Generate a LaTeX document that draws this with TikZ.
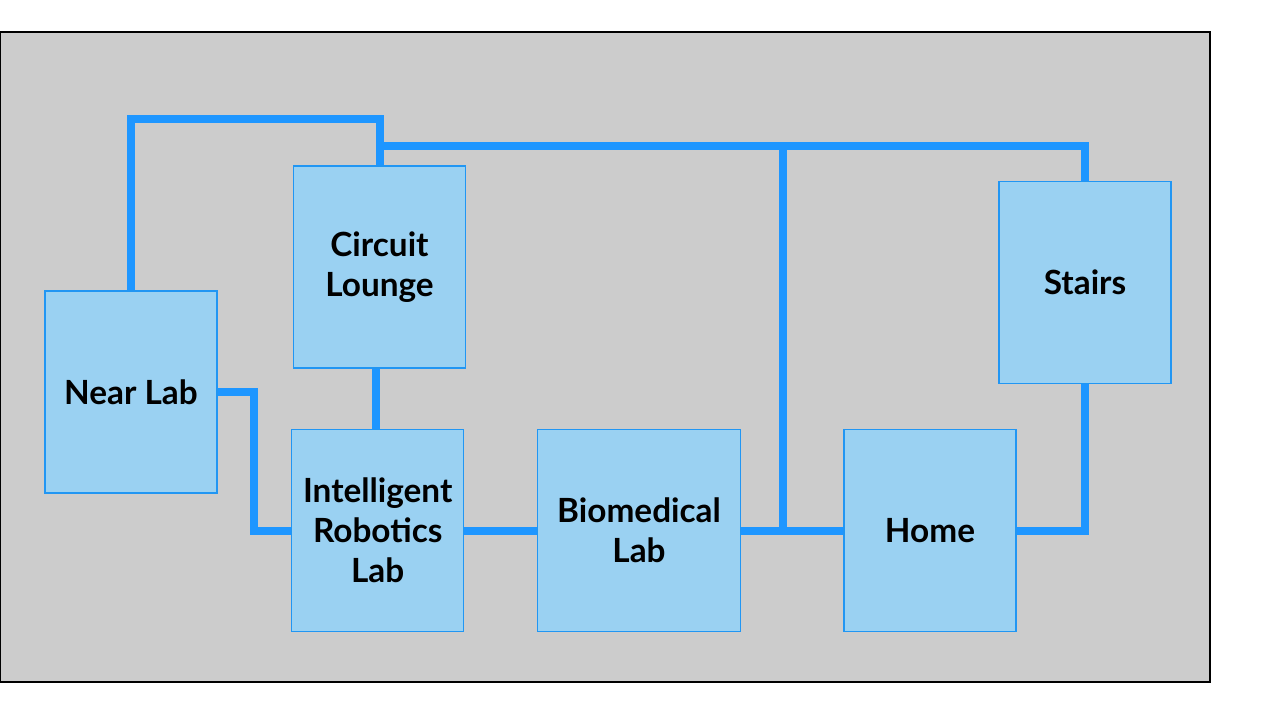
\documentclass[tikz,border=0pt]{standalone}
\usepackage{fontspec}
\setmainfont{Lato}
\usetikzlibrary{calc}
\definecolor{BackClr}{RGB}{204,204,204}
\definecolor{RoomClr}{RGB}{154,209,242}
\definecolor{EdgeClr}{RGB}{33,150,243}
\definecolor{WireClr}{RGB}{30,150,255}

\begin{document}
\begin{tikzpicture}[x=0.75pt,y=-0.75pt,
  room/.style={draw=EdgeClr,fill=RoomClr,line width=1.1pt,align=center,
    minimum width=129pt,minimum height=151.5pt,inner sep=0pt,
    font=\fontsize{25}{30}\selectfont\bfseries},
  wire/.style={draw=WireClr,line width=6pt}]
\useasboundingbox (0,0) rectangle (1270,714);

% Floor background.
\draw[fill=BackClr,line width=1pt] (0,32) rectangle (1210,682);

% Draw rooms.
\node[room] (nl) at (131,392) {Near Lab};
\node[room] (cl) at (379.5,267) {Circuit\\Lounge};
\node[room] (irl) at (377.7,530.5) {Intelligent\\Robotics\\Lab};
\node[room,minimum width=152.25pt] (bio) at (639,530.5) {Biomedical\\Lab};
\node[room] (hm) at (930,530.5) {Home};
\node[room] (st) at (1085,282.5) {Stairs};

% Find the corridor bends.
\coordinate (busL) at ($(cl.north)+(0,-19.5)$);
\coordinate (busM) at (783,0);
\coordinate (stemC) at ([xshift=-3pt]cl.south);

% Draw corridors.
\draw[wire] (nl.north) |- ($(cl.north)+(0,-46)$) -- (cl.north);
\draw[wire] (busL) -| (st.north);
\draw[wire] (busM |- busL) -- (busM |- hm.west);
\draw[wire] (nl.east) -| ($(nl.east)!0.5!(irl.west)$) |- (irl.west);
\draw[wire] (stemC) -- (stemC |- irl.north);
\draw[wire] (irl.east) -- (bio.west);
\draw[wire] (bio.east) -- (hm.west);
\draw[wire] (hm.east) -| (st.south);

\end{tikzpicture}
\end{document}
